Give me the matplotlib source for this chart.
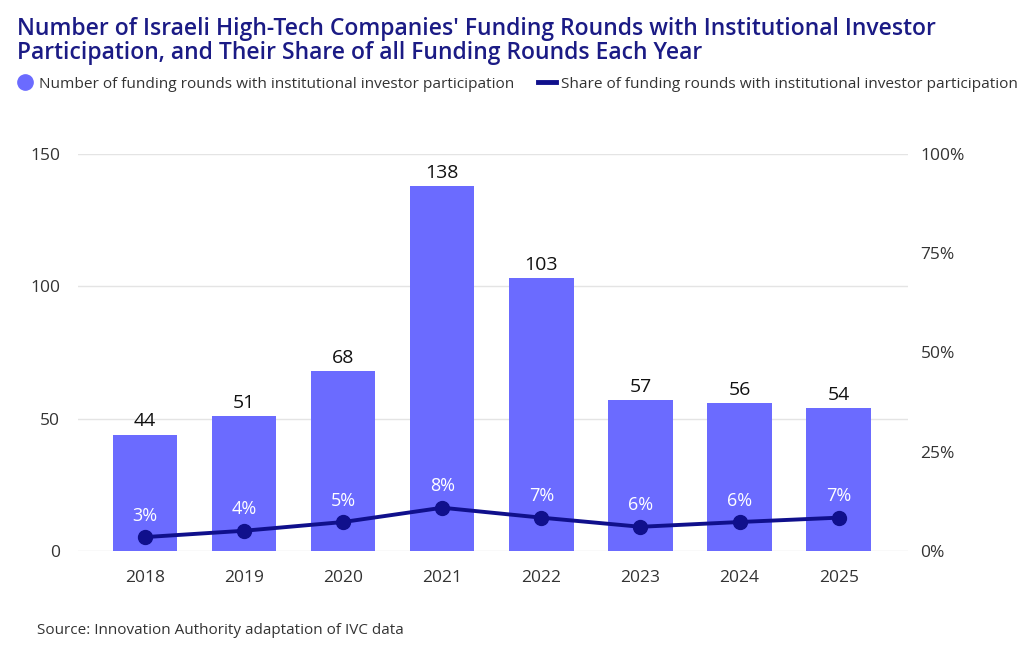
import matplotlib
matplotlib.use("Agg")
import matplotlib.pyplot as plt
from matplotlib.lines import Line2D

years = ["2018", "2019", "2020", "2021", "2022", "2023", "2024", "2025"]
rounds = [44, 51, 68, 138, 103, 57, 56, 54]
share_pct = [3.5, 5.1, 7.3, 10.9, 8.4, 6.1, 7.3, 8.4]
share_labels = ["3%", "4%", "5%", "8%", "7%", "6%", "6%", "7%"]
left_ticks = [0, 50, 100, 150]
right_ticks = [0, 25, 50, 75, 100]

title = ("Number of Israeli High-Tech Companies' Funding Rounds with Institutional Investor\n"
         "Participation, and Their Share of all Funding Rounds Each Year")
legend_bar = "Number of funding rounds with institutional investor participation"
legend_line = "Share of funding rounds with institutional investor participation"
source = "Source: Innovation Authority adaptation of IVC data"

BAR = "#6B6BFF"
LINE = "#10108C"
TITLE_C = "#1B1B85"
TXT = "#333333"

plt.rcParams["font.family"] = ["Open Sans", "DejaVu Sans"]

fig = plt.figure(figsize=(10.24, 6.56), dpi=100)
ax = fig.add_axes([78/1024, 1-551/656, 830/1024, 397/656])
x = list(range(len(years)))
ax.bar(x, rounds, width=0.65, color=BAR, zorder=2)
ax.set_ylim(0, 150)
ax.set_xlim(-0.676, 7.70)
ax.set_yticks(left_ticks)
ax.set_xticks(x)
ax.set_xticklabels(years)
ax.grid(axis="y", color="#e4e4e4", linewidth=1, zorder=0)
for s in ax.spines.values():
    s.set_visible(False)
ax.tick_params(axis="both", length=0, labelsize=12.5, labelcolor=TXT)
ax.tick_params(axis="y", pad=13)
ax.tick_params(axis="x", pad=14)
for xi, v in zip(x, rounds):
    ax.annotate(str(v), (xi, v), xytext=(0, 3), textcoords="offset points",
                ha="center", va="bottom", fontsize=14, color="#111111")

ax2 = ax.twinx()
ax2.set_ylim(0, 100)
ax2.set_yticks(right_ticks)
ax2.set_yticklabels([f"{t}%" for t in right_ticks])
for s in ax2.spines.values():
    s.set_visible(False)
ax2.tick_params(axis="y", length=0, labelsize=12.5, labelcolor=TXT, pad=9)
ax2.plot(x, share_pct, color=LINE, lw=2.8, marker="o", markersize=10, zorder=3)
for xi, p, lab in zip(x, share_pct, share_labels):
    ax2.annotate(lab, (xi, p), xytext=(0, 9), textcoords="offset points",
                 ha="center", va="bottom", fontsize=13, color="white")

fig.text(17/1024, 1-17/656, title, ha="left", va="top", fontsize=16.5,
         fontweight="semibold", color=TITLE_C, linespacing=1.0)

handles = [Line2D([], [], marker="o", color=BAR, linestyle="none", markersize=11),
           Line2D([], [], color=LINE, lw=3.5)]
fig.legend(handles, [legend_bar, legend_line], loc="center left",
           bbox_to_anchor=(16/1024, 1-84/656), ncol=2, frameon=False,
           fontsize=11.05, handlelength=1.2, handletextpad=0.3, columnspacing=1.55,
           labelcolor=TXT, borderaxespad=0, borderpad=0)

fig.text(37/1024, 1-630/656, source, ha="left", va="center", fontsize=11, color=TXT)

fig.savefig("out.png", dpi=100, facecolor="white")
